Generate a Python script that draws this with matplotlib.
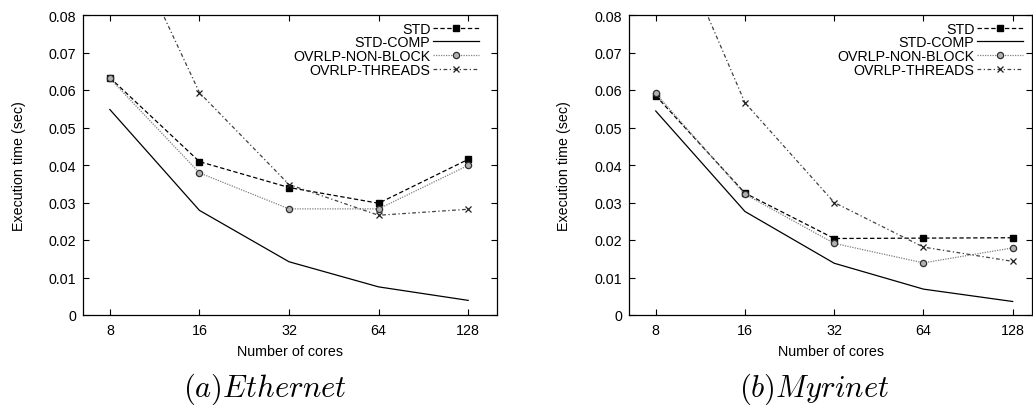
import matplotlib
matplotlib.use('Agg')
import matplotlib.pyplot as plt
from matplotlib.ticker import FixedLocator, FuncFormatter, NullLocator

plt.rcParams['font.family'] = ['Liberation Sans', 'DejaVu Sans']
plt.rcParams['mathtext.fontset'] = 'cm'

cores = [8, 16, 32, 64, 128]
series_names = ['STD', 'STD-COMP', 'OVRLP-NON-BLOCK', 'OVRLP-THREADS']

# execution times (sec), Ethernet
eth_std = [0.0633, 0.0409, 0.0340, 0.0298, 0.0415]
eth_comp = [0.0548, 0.0279, 0.0142, 0.0075, 0.0039]
eth_nonblock = [0.0631, 0.0379, 0.0283, 0.0283, 0.0399]
eth_threads = [0.1105, 0.0593, 0.0348, 0.0266, 0.0282]

# execution times (sec), Myrinet
myr_std = [0.0585, 0.0325, 0.0204, 0.0205, 0.0206]
myr_comp = [0.0544, 0.0276, 0.0138, 0.0069, 0.0036]
myr_nonblock = [0.0591, 0.0322, 0.0191, 0.0139, 0.0179]
myr_threads = [0.112, 0.0566, 0.0300, 0.0181, 0.0143]

captions = [r'$(a)Ethernet$', r'$(b)Myrinet$']

FS = 10.3

styles = [
    dict(color='black', ls=(0, (3.5, 2)), marker='s', ms=4.5, mfc='black', mec='black'),
    dict(color='black', ls='-'),
    dict(color='#808080', ls=(0, (1, 1)), marker='o', ms=4.5, mfc='#b0b0b0', mec='#303030', mew=0.9),
    dict(color='#404040', ls=(0, (3, 2, 1, 2)), marker='x', ms=4.5, mec='#202020', mew=0.9),
]


def draw_panel(ax, data, xmax, ylab_x, leg_x):
    for name, vals, st in zip(series_names, data, styles):
        ax.plot(cores, vals, lw=0.9, label=name, **st)
    ax.set_xscale('log', base=2)
    ax.set_xlim(6.5, xmax)
    ax.set_ylim(0, 0.08)
    ax.xaxis.set_major_locator(FixedLocator(cores))
    ax.xaxis.set_minor_locator(NullLocator())
    ax.xaxis.set_major_formatter(FuncFormatter(lambda v, p: '%d' % v))
    ax.yaxis.set_major_locator(FixedLocator([i * 0.01 for i in range(9)]))
    ax.yaxis.set_major_formatter(FuncFormatter(lambda v, p: '0' if abs(v) < 1e-9 else '%.2f' % v))
    ax.tick_params(direction='in', length=4.5, width=0.8, top=True, right=True, labelsize=FS)
    ax.tick_params(axis='x', pad=6)
    ax.tick_params(axis='y', pad=5)
    for sp in ax.spines.values():
        sp.set_linewidth(0.9)
    ax.set_xlabel('Number of cores', fontsize=FS)
    ax.set_ylabel('Execution time (sec)', fontsize=FS)
    ax.xaxis.set_label_coords(0.5, -0.097)
    ax.yaxis.set_label_coords(ylab_x, 0.5)
    ax.legend(loc='upper right', bbox_to_anchor=(leg_x, 0.977), frameon=False,
              markerfirst=False, fontsize=FS, handlelength=3.2, handletextpad=0.2,
              labelspacing=-0.03, borderpad=0, borderaxespad=0)


fig = plt.figure(figsize=(10.33, 4.06), dpi=100)
ax1 = fig.add_axes([83 / 1033, 90 / 406, 414 / 1033, 300 / 406])
ax2 = fig.add_axes([629 / 1033, 90 / 406, 403 / 1033, 300 / 406])

draw_panel(ax1, [eth_std, eth_comp, eth_nonblock, eth_threads], 160, -0.138, 0.9565)
draw_panel(ax2, [myr_std, myr_comp, myr_nonblock, myr_threads], 148.7, -0.144, 0.9777)

fig.text(265 / 1033, 0.022, captions[0], fontsize=22, ha='center', va='baseline')
fig.text(814 / 1033, 0.022, captions[1], fontsize=22, ha='center', va='baseline')

fig.savefig('out.png', dpi=100)
